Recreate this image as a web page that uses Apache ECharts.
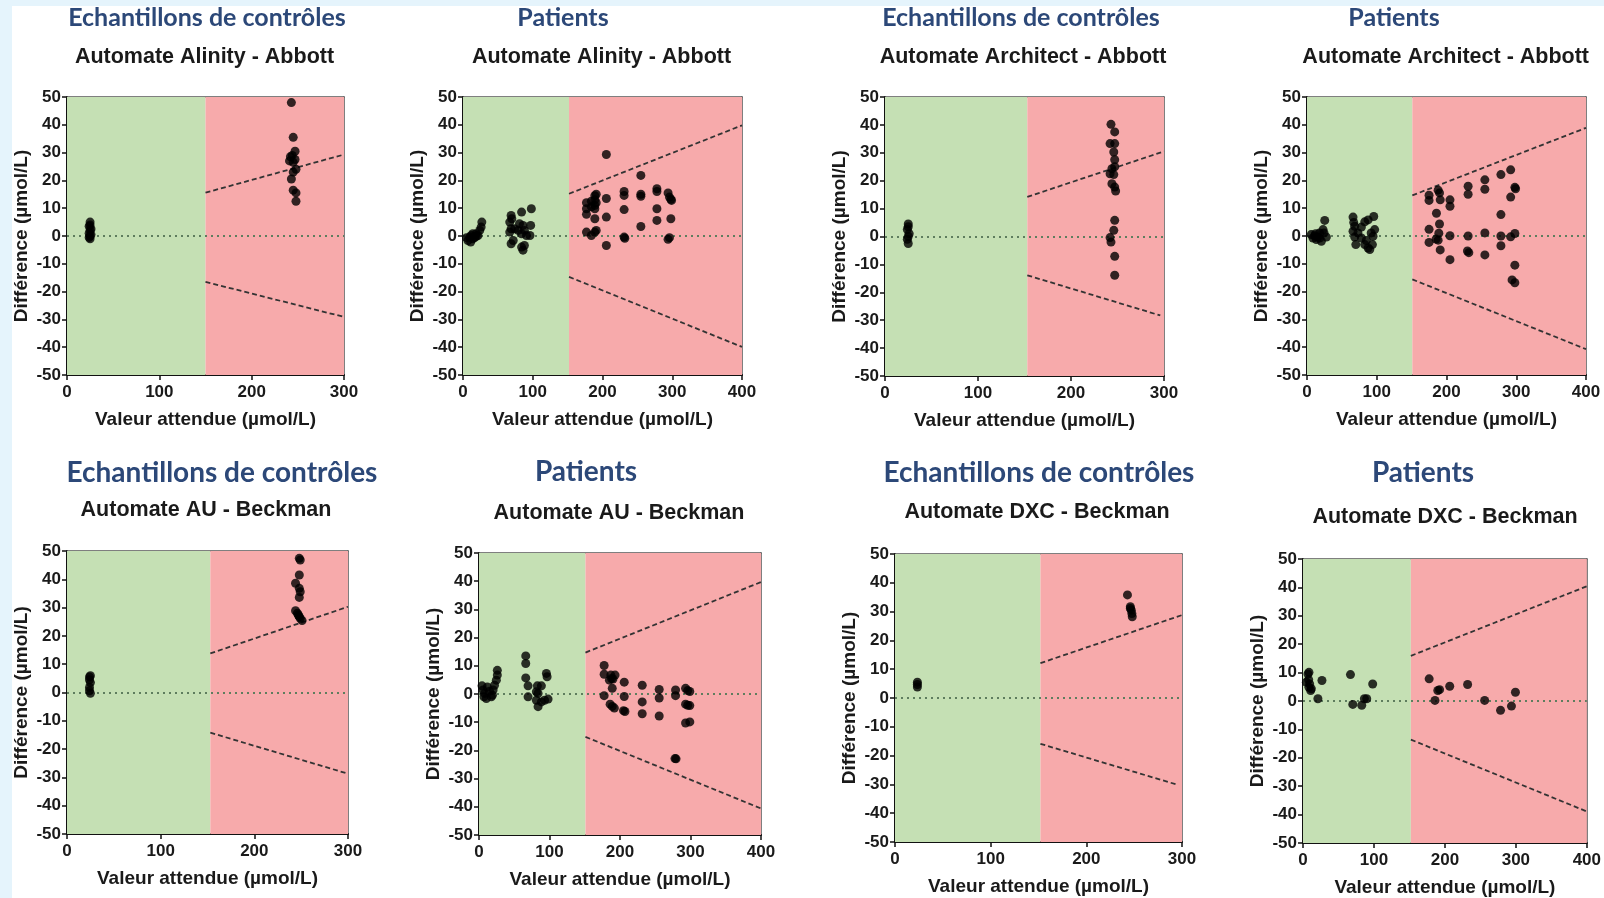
<!DOCTYPE html>
<html>
<head>
<meta charset="utf-8">
<script src="https://cdn.jsdelivr.net/npm/echarts@6/dist/echarts.min.js"></script>
<style>
html,body{margin:0;padding:0;background:#e5f4fc;}
#sheet{position:absolute;left:12px;top:6px;width:1592px;height:892px;background:#ffffff;}
#chart{position:absolute;left:0;top:0;width:1604px;height:898px;}
</style>
</head>
<body>
<div id="sheet"></div>
<div id="chart"></div>
<script>
// ---------- DATA ----------
const panelTitles = ["Echantillons de contrôles","Patients","Echantillons de contrôles","Patients",
                     "Echantillons de contrôles","Patients","Echantillons de contrôles","Patients"];
const panelSubtitles = ["Automate Alinity - Abbott","Automate Alinity - Abbott","Automate Architect - Abbott","Automate Architect - Abbott",
                        "Automate AU - Beckman","Automate AU - Beckman","Automate DXC - Beckman","Automate DXC - Beckman"];
const xAxisName = "Valeur attendue (µmol/L)";
const yAxisName = "Différence (µmol/L)";
const xMaxValues = [300,400,300,400,300,400,300,400];
const yMin = -50, yMax = 50;
const acceptLimit = [150,152,153,151,153,151,152,152];   // green/red boundary (µmol/L)

const alinityControls = [[25,5],[25,4],[24,3.5],[26,2.5],[25,2],[24,1],[26,0.5],[25,0],[24,-0.5],[25,-1],
  [243,48],[245,35.5],[242,28.5],[244,29],[247,30.5],[241,27],[247,27.5],[245,26.5],[248,24],[245,23],
  [243,20.5],[245,16.5],[248,15.5],[248,12.5]];
const alinityPatients = [[7,-1.6],[9.5,-0.4],[12,0.2],[14,0.8],[16.7,-0.6],[19,0.8],[21.5,0.2],[24,2],[26,3.2],[27,5],
  [11,-2.2],[5,-0.6],[14,-1],[19,-0.1],
  [69,7.4],[70,6.2],[67,5],[69,2.6],[67,1.4],[69,-2.8],[84,8.6],[98,9.8],[81,4.4],[86,3.8],[88,2],[84,0.8],
  [91,0.2],[84,-4],[88,-3.4],[86,-5.1],[97,3.8],[96,0.2],[79,2],[74,2.6],[72,-1.6],
  [177,12],[177,9.8],[177,7.8],[184,12.5],[184,10.5],[189,14.5],[189,13],[189,11],[189,9.8],[191,15],[191,12],
  [177,1.4],[184,0.2],[189,1.4],[191,2],[189,6.2],
  [205.5,29.3],[205.5,13.5],[205.5,6.8],[205.5,-3.4],
  [231,16],[231,14.6],[231,9.5],[231,-0.4],[232,-0.8],
  [255,21.8],[255,15],[255,14.3],[255,3.4],
  [278,17],[278,16],[278,9.8],[278,5.6],
  [294,15.5],[296,14],[298,13.2],[299,12.8],[298,6.2],[296,-0.6],[294,-1.2]];
const architectControls = [[25,4.5],[25,3.5],[24,2.5],[26,1],[25,0],[24,-1],[25,-2.5],
  [243,40.2],[247,37.5],[242,33.3],[247,33.3],[246,30.3],[247,27.5],[247,25],[244,24.3],[242,22.5],[246,22.2],
  [244,18.9],[247,17.7],[248,16.3],[247,5.8],[246,2.2],[242,-0.4],[243,-2],[247,-7.1],[247,-13.9]];
const architectPatients = [[6,0.5],[8.6,-0.7],[11,0.1],[13.4,-1.3],[15.8,-0.4],[18,1.1],[20.6,-1.9],[23,2.3],
  [25.4,5.6],[24.4,1.1],[27.8,-0.4],[18,-0.7],[12.4,0.8],
  [66,6.8],[67,4.9],[68.4,3.5],[66,1.7],[68.4,-0.4],[70,-3.1],[73,1.1],[78,3.2],[82.8,5.1],[87.6,5.8],[95.7,7],
  [97,2.3],[94.7,-0.1],[92,1.1],[85,-1.6],[82.8,-3.1],[87.6,-4.3],[90,-4.9],[78,-0.7],[93.8,-3.1],
  [175,14.7],[175,12.8],[175,2.4],[175,-2.3],[185.6,8.2],[185,-1.1],
  [188,16.5],[190,15.5],[191,13],[190,4.3],[189,1],[188,-1.5],[191,-5],
  [205,13],[205,10.7],[205,0.1],[205,-8.5],
  [231,17.9],[231,15],[231,0],[230,-5.4],[232,-6],
  [255,20.2],[255,16.8],[255,1.1],[255,-6.8],
  [278,22.1],[278,7.7],[278,0],[278,-3.5],
  [292,23.8],[292,14],[292,-0.3],
  [298,17.5],[299,17],[298,0.9],[298,-10.5],[294,-15.8],[298,-16.8]];
const auControls = [[24,5.5],[24,4.5],[25,3.5],[24,1.8],[24,0.6],[25,-0.3],[25,5.9],
  [248,47.4],[249,46.8],[248,41.5],[244,38.6],[248,36.8],[249,35.6],[248,33.6],[244,28.9],[246,28],
  [248,26.8],[249,26.2],[251,25.4],[247,27.4]];
const auPatients = [[4.3,2.9],[5.7,1.4],[8,0.2],[10.4,-1.6],[11.8,2.5],[15,1],[17.5,-1],[20,1.4],[22,3.1],
  [24.6,4.9],[26,6.7],[26,8.4],[19,-0.4],[7,-1],
  [66.3,13.5],[66.3,10.8],[66.3,5.7],[69.6,2.9],[69.6,-1],[82.8,2.9],[88.5,2.9],[81.4,0.8],[83.8,0.2],
  [81.4,-2.2],[83.8,-4.5],[88.5,-2.8],[95.6,7.3],[96.6,6.1],[98,-1.8],[93,-2.2],
  [177.5,10.1],[177.5,7],[177.5,-0.6],
  [185,4.9],[187,6.7],[190,5.3],[193,6.7],[188,5.5],[189,2],[186,-3.6],[189,-4.4],[192,-5],
  [206,4.2],[206,-0.9],[205,-5.9],[207,-6.2],
  [231.5,3.1],[231.5,-2.8],[231.5,-7],
  [255.6,1.6],[255.6,-1.4],[255.6,-7.8],
  [278.8,1.4],[278.8,-0.6],[278,-22.9],[279.5,-23],
  [293,2],[293,-3.6],[293,-10.3],[299,0.9],[299,-4.1],[299,-9.9],[296,1.2],[296,-4]];
const dxcControls = [[23.4,5.5],[23.4,4.7],[23.4,3.8],
  [243,35.8],[246,31.7],[247,30.5],[247.6,29.3],[248,28.2],[246,31.1]];
const dxcPatients = [[7,9.5],[8.4,10.1],[4.7,6.6],[9.4,6],[8.4,4.8],[10.8,3.7],[11.7,4.3],[8,7.5],
  [21,0.8],[26.7,7.2],[66.9,9.3],[70.2,-1.2],[82.8,-1.5],[86.5,0.8],[89.8,0.8],[98.2,6],
  [177.8,7.8],[186,0.2],[190,3.7],[192.5,4],[206.8,5.2],[232,5.8],[256,0.2],[278.4,-3.3],[293.8,-1.8],[299.4,3.1]];
const panelPoints = [alinityControls, alinityPatients, architectControls, architectPatients,
                     auControls, auPatients, dxcControls, dxcPatients];

// acceptance limit lines (dashed): [[x1,y1],[x2,y2]]
const upperLimits = [[[150,15.6],[300,29.3]],[[152,15.2],[400,39.8]],[[153,14.2],[300,30.5]],[[151,14.6],[400,38.9]],
                     [[153,13.8],[300,30.3]],[[151,14.7],[400,39.7]],[[152,12.1],[300,28.8]],[[152,15.9],[400,40.4]]];
const lowerLimits = [[[150,-16.5],[300,-29.1]],[[152,-14.7],[400,-39.9]],[[153,-13.9],[296,-28.3]],[[151,-15.6],[400,-40.7]],
                     [[153,-14.2],[300,-28.7]],[[151,-15.2],[400,-40.6]],[[152,-15.9],[295,-30.1]],[[152,-13.6],[400,-38.9]]];

// ---------- LAYOUT ----------
const grids = [
  {left:67, top:97, width:277, height:278},
  {left:463, top:97, width:279, height:278},
  {left:885, top:97, width:279, height:279},
  {left:1307, top:97, width:279, height:278},
  {left:67, top:551, width:281, height:283},
  {left:479, top:553, width:282, height:282},
  {left:895, top:554, width:287, height:288},
  {left:1303, top:559, width:285, height:286}
];
const titlePos = [[207,18,25],[563,18,25],[1021,18,25],[1394,18,25],[222,473,28],[586,472,28],[1039,473,28],[1423,473,28]];
const subPos = [[204.5,57],[601.5,57],[1023,57],[1445.7,57],[206,510],[619,513],[1037,512],[1445,517]];

const GREEN = '#c5e0b4', RED = '#f7aaab';
const AXF = '"Liberation Sans", Arial, sans-serif';

const option = {
  animation:false,
  backgroundColor:'transparent',
  grid: grids.map(g => Object.assign({show:false, containLabel:false}, g)),
  xAxis: [], yAxis: [], series: [], graphic: []
};

for (let i = 0; i < 8; i++) {
  const xm = xMaxValues[i];
  option.xAxis.push({
    type:'value', gridIndex:i, min:0, max:xm, interval:100,
    name:xAxisName, nameLocation:'middle', nameGap:35,
    nameTextStyle:{fontFamily:AXF, fontWeight:'bold', fontSize:19, color:'#1a1a1a'},
    axisLine:{show:true, onZero:false, lineStyle:{color:'#111', width:2}},
    axisTick:{show:true, length:5, lineStyle:{color:'#111', width:1.5}},
    axisLabel:{margin:9, fontFamily:AXF, fontWeight:'bold', fontSize:17, color:'#1a1a1a'},
    splitLine:{show:false}
  });
  option.xAxis.push({
    type:'value', gridIndex:i, min:0, max:xm, position:'top',
    axisLine:{show:true, onZero:false, lineStyle:{color:'#555', width:1.5}},
    axisTick:{show:false}, axisLabel:{show:false}, splitLine:{show:false}
  });
  option.yAxis.push({
    type:'value', gridIndex:i, min:yMin, max:yMax, interval:10,
    name:yAxisName, nameLocation:'middle', nameGap:36, nameRotate:90,
    nameTextStyle:{fontFamily:AXF, fontWeight:'bold', fontSize:19, color:'#1a1a1a'},
    axisLine:{show:true, onZero:false, lineStyle:{color:'#111', width:2}},
    axisTick:{show:true, length:5, lineStyle:{color:'#111', width:1.5}},
    axisLabel:{margin:6, fontFamily:AXF, fontWeight:'bold', fontSize:17, color:'#1a1a1a'},
    splitLine:{show:false}
  });
  option.yAxis.push({
    type:'value', gridIndex:i, min:yMin, max:yMax, position:'right',
    axisLine:{show:true, onZero:false, lineStyle:{color:'#555', width:1.5}},
    axisTick:{show:false}, axisLabel:{show:false}, splitLine:{show:false}
  });
  const xi = i*2, yi = i*2;
  option.series.push({
    type:'scatter', xAxisIndex:xi, yAxisIndex:yi, z:5,
    symbol:'circle', symbolSize:9, itemStyle:{color:'#000'},
    data: panelPoints[i],
    markArea:{silent:true, z:1, itemStyle:{opacity:1},
      data:[
        [{xAxis:0, yAxis:yMin, itemStyle:{color:GREEN}},{xAxis:acceptLimit[i], yAxis:yMax}],
        [{xAxis:acceptLimit[i], yAxis:yMin, itemStyle:{color:RED}},{xAxis:xm, yAxis:yMax}]
      ]},
    markLine:{silent:true, symbol:'none', label:{show:false},
      lineStyle:{color:'#5e7d5e', width:2, type:[2,4]},
      data:[{yAxis:0}]}
  });
  [upperLimits[i], lowerLimits[i]].forEach(seg => {
    option.series.push({
      type:'line', xAxisIndex:xi, yAxisIndex:yi, z:4, symbol:'none', silent:true,
      lineStyle:{color:'#333', width:1.8, type:[5,3]},
      data: seg
    });
  });
  option.graphic.push({
    type:'text', x:titlePos[i][0], y:titlePos[i][1],
    style:{text:panelTitles[i], fontFamily:'Lato, "Open Sans", sans-serif', fontWeight:'bold',
      fontSize:titlePos[i][2], fill:'#2c4878', textAlign:'center', textVerticalAlign:'middle'}
  });
  option.graphic.push({
    type:'text', x:subPos[i][0], y:subPos[i][1],
    style:{text:panelSubtitles[i], fontFamily:AXF, fontWeight:'bold',
      fontSize:21.5, fill:'#1a1a1a', textAlign:'center', textVerticalAlign:'middle'}
  });
}

const chart = echarts.init(document.getElementById('chart'), null, {renderer:'canvas', width:1604, height:898});
chart.setOption(option);
</script>
</body>
</html>
